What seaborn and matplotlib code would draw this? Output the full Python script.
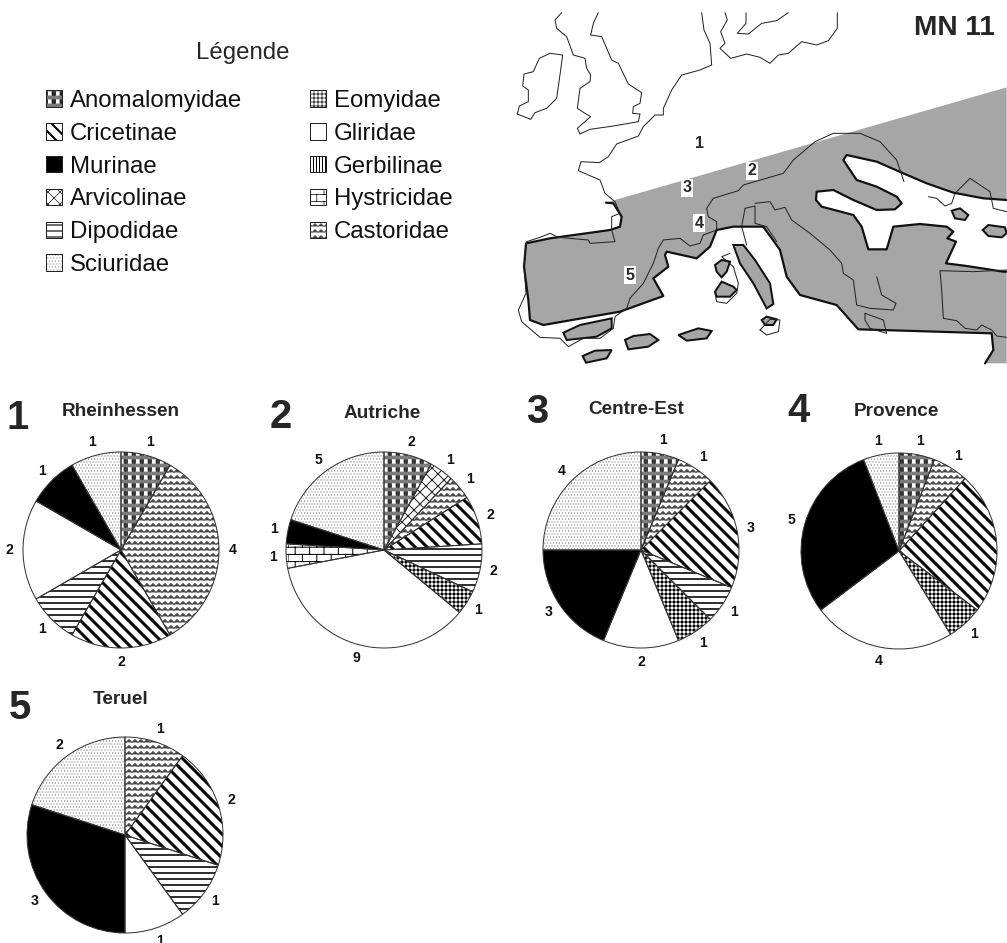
import warnings
import numpy as np
import pandas as pd
import matplotlib
matplotlib.use("Agg")
import matplotlib.pyplot as plt
import matplotlib.hatch as mhatch
from matplotlib.legend_handler import HandlerBase
from matplotlib.patches import Patch, Polygon, Rectangle
from matplotlib.path import Path
import seaborn as sns

warnings.filterwarnings("ignore")

# Data
families = ["Anomalomyidae", "Arvicolinae", "Castoridae", "Cricetinae", "Dipodidae",
            "Eomyidae", "Gerbilinae", "Gliridae", "Hystricidae", "Murinae", "Sciuridae"]
rheinhessen = [1, 0, 4, 2, 1, 0, 0, 2, 0, 1, 1]
autriche = [2, 1, 1, 2, 2, 1, 0, 9, 1, 1, 5]
centre_est = [1, 0, 1, 3, 1, 1, 0, 2, 0, 3, 4]
provence = [1, 0, 1, 4, 0, 1, 0, 4, 0, 5, 1]
teruel = [0, 0, 1, 2, 1, 0, 0, 1, 0, 3, 2]
region_names = ["Rheinhessen", "Autriche", "Centre-Est", "Provence", "Teruel"]
legend_col1 = ["Anomalomyidae", "Cricetinae", "Murinae", "Arvicolinae", "Dipodidae", "Sciuridae"]
legend_col2 = ["Eomyidae", "Gliridae", "Gerbilinae", "Hystricidae", "Castoridae"]

counts = pd.DataFrame([rheinhessen, autriche, centre_est, provence, teruel],
                      index=region_names, columns=families)

# pie layout in image pixels
pie_centers = [(121, 550), (384, 550), (641, 550), (899, 551), (125, 835)]
pie_radius = 98
title_xy = [(121, 411), (382, 413), (636, 410), (896, 412), (121, 700)]
number_xy = [(18, 418), (281, 417), (537, 412), (798, 411), (20, 708)]

# Map outlines at 3x, converted by to_px()
land = [(345, 600), (1520, 262), (1520, 600), (1450, 595), (1360, 578), (1280, 550), (1210, 520),
        (1130, 485), (1040, 465), (1030, 480), (1070, 540), (1130, 560), (1190, 590), (1205, 610),
        (1185, 628), (1130, 630), (1060, 600), (1000, 570), (950, 575), (948, 600), (965, 620),
        (1060, 645), (1085, 680), (1105, 748), (1160, 748), (1180, 680), (1260, 672), (1340, 680),
        (1360, 695), (1342, 715), (1368, 725), (1338, 790), (1400, 798), (1510, 815), (1520, 815),
        (1520, 1090), (1455, 1090), (1480, 1050), (1475, 1000), (1075, 988), (1010, 915), (900, 885),
        (860, 830), (840, 750), (790, 680), (700, 680), (650, 690), (630, 740), (590, 775), (500, 755),
        (495, 765), (505, 800), (460, 835), (490, 888), (360, 935), (130, 975), (90, 960), (85, 900),
        (72, 800), (78, 730), (150, 715), (330, 690), (360, 680), (365, 650), (340, 610), (318, 608)]
islands = [
    [(700, 735), (730, 735), (765, 780), (810, 850), (820, 912), (800, 925), (760, 850), (720, 790)],
    [(645, 795), (665, 780), (690, 785), (680, 815), (665, 832), (650, 815)],
    [(645, 875), (665, 845), (700, 860), (710, 870), (690, 890), (650, 890)],
    [(785, 960), (800, 950), (830, 958), (820, 975), (795, 975)],
    [(190, 998), (240, 975), (335, 955), (335, 985), (290, 1010), (200, 1020)],
    [(375, 1020), (400, 1008), (450, 1002), (475, 1020), (445, 1040), (385, 1048)],
    [(535, 1005), (595, 985), (635, 993), (620, 1015), (560, 1022)],
    [(248, 1068), (285, 1052), (335, 1050), (320, 1075), (258, 1088)],
    [(1355, 632), (1380, 625), (1405, 645), (1395, 660), (1365, 655)],
    [(1448, 690), (1465, 675), (1515, 682), (1520, 700), (1505, 712), (1465, 708)],
]
coasts = [
    [(52, 342), (58, 318), (85, 305), (85, 270), (68, 258), (72, 222), (100, 215), (118, 175),
     (150, 160), (188, 165), (182, 210), (170, 295), (140, 325), (105, 338), (92, 358), (52, 342)],
    [(185, 38), (165, 60), (170, 85), (200, 110), (220, 165), (255, 175), (260, 205), (272, 225),
     (270, 245), (240, 265), (232, 325), (255, 340), (272, 350), (232, 385), (240, 402), (270, 388),
     (340, 378), (415, 365), (420, 342), (398, 340), (400, 320), (420, 310), (425, 278), (385, 252),
     (355, 190), (335, 180), (305, 110), (272, 105), (280, 70), (295, 38)],
    [(605, 38), (612, 90), (630, 130), (635, 195), (600, 210), (545, 225), (515, 270), (490, 325),
     (490, 345), (465, 345), (430, 380), (415, 408), (350, 432), (325, 470), (298, 488), (243, 485),
     (235, 512), (300, 540), (315, 580), (345, 605), (360, 640), (335, 650), (335, 690), (345, 725),
     (270, 730), (265, 720), (175, 712), (150, 700), (120, 712), (80, 725), (72, 800), (78, 880),
     (55, 930), (65, 965), (120, 1012), (180, 1015), (205, 1040), (250, 1015), (300, 1015), (340, 985),
     (345, 950), (380, 925), (390, 895), (430, 850), (460, 790), (475, 745), (490, 720), (540, 715),
     (570, 738), (600, 730), (610, 705), (650, 690), (650, 665), (625, 650), (620, 625), (640, 595),
     (715, 572), (730, 555), (850, 520), (880, 480), (945, 425), (1000, 400), (1080, 400), (1140, 425),
     (1190, 480), (1212, 545)],
    [(675, 38), (682, 60), (662, 95), (675, 130), (660, 145), (692, 175), (740, 162), (780, 172),
     (810, 190), (835, 165), (865, 160), (905, 125), (950, 135), (985, 122), (1012, 85), (1012, 38)],
    [(738, 38), (738, 70), (712, 100), (745, 102), (785, 70), (830, 62), (865, 38)],
    [(765, 610), (810, 605), (825, 630), (855, 622), (875, 660), (930, 700), (990, 750), (1025, 790),
     (1030, 820), (1060, 840), (1070, 915), (1110, 925), (1180, 930), (1188, 910), (1145, 885), (1130, 830)],
    [(740, 735), (725, 680), (735, 625), (765, 618), (765, 670), (800, 680), (830, 725)],
    [(690, 760), (665, 770), (700, 800), (715, 850), (710, 880), (680, 910), (650, 905), (645, 880)],
    [(780, 990), (810, 958), (840, 960), (835, 995), (800, 1005), (780, 990)],
    [(1095, 940), (1150, 960), (1160, 1000), (1110, 985), (1095, 960), (1095, 940)],
    [(1285, 590), (1310, 595), (1335, 618), (1355, 610), (1365, 580), (1410, 535), (1470, 575),
     (1480, 625), (1520, 635)],
    [(1520, 810), (1420, 815), (1320, 812), (1325, 870), (1330, 955), (1370, 962), (1395, 985),
     (1430, 990), (1445, 975), (1475, 990), (1490, 1008), (1520, 1012)],
]
map_numbers = ["1", "2", "3", "4", "5"]
map_number_xy = [(598, 432), (757, 512), (562, 563), (598, 670), (390, 825)]


def to_px(points):
    return np.array(points) / 3 + [500, 0]


# Extra hatch patterns for the fills matplotlib does not have: wave, brick, squares
def wave_tile():
    verts, codes = [], []
    for row in range(12):
        y = (row + 0.5) / 12
        for i in range(25):
            verts.append((i / 24, y + (0.02 if i % 2 else -0.02)))
            codes.append(Path.LINETO if i else Path.MOVETO)
    return verts, codes


def brick_tile():
    verts, codes = [], []
    for row in range(10):
        y = row / 10
        verts += [(0, y), (1, y)]
        codes += [Path.MOVETO, Path.LINETO]
        for col in range(5):
            x = (col + (0.5 if row % 2 else 0)) / 5
            verts += [(x, y), (x, y + 0.1)]
            codes += [Path.MOVETO, Path.LINETO]
    return verts, codes


def square_tile(dx):
    verts, codes = [], []
    n, s = 9, 0.05
    for row in range(n):
        for col in range(n):
            x, y = col / n + dx, row / n + 0.01
            verts += [(x, y), (x + s, y), (x + s, y + s), (x, y + s), (x, y)]
            codes += [Path.MOVETO, Path.LINETO, Path.LINETO, Path.LINETO, Path.CLOSEPOLY]
    return verts, codes


tiles = {"w": wave_tile(), "b": brick_tile(), "q": square_tile(0.0), "k": square_tile(1 / 18)}


class TileHatch(mhatch.HatchPatternBase):
    def __init__(self, hatch, density):
        self.parts = [tiles[c] for c in (hatch or "") if c in tiles]
        self.num_vertices = sum(len(p[0]) for p in self.parts)

    def set_vertices_and_codes(self, vertices, codes):
        i = 0
        for verts, cods in self.parts:
            vertices[i:i + len(verts)] = verts
            codes[i:i + len(verts)] = cods
            i += len(verts)


mhatch._hatch_types.append(TileHatch)

# family: face colour, hatch colour, hatch, hatch line width, hatch on top (black)
styles = {
    "Anomalomyidae": ("#7a7a7a", "white", "q", 0.5, "k"),
    "Arvicolinae": ("white", "#222222", "xx", 1.0, None),
    "Castoridae": ("white", "#444444", "w", 1.0, None),
    "Cricetinae": ("white", "black", "\\\\", 3.0, None),
    "Dipodidae": ("white", "black", "--", 1.6, None),
    "Eomyidae": ("white", "black", "+++", 1.0, None),
    "Gerbilinae": ("white", "black", "||||", 1.5, None),
    "Gliridae": ("white", "black", None, 1.0, None),
    "Hystricidae": ("white", "black", "b", 1.0, None),
    "Murinae": ("black", "black", None, 1.0, None),
    "Sciuridae": ("white", "#555555", "....", 0.4, None),
}


class FamilyHandler(HandlerBase):
    def create_artists(self, legend, orig, xd, yd, w, h, fontsize, trans):
        face, color, hatch, lw, top = styles[orig.get_label()]
        base = Rectangle((-xd, -yd), w, h, transform=trans, facecolor=face,
                         edgecolor=color, hatch=hatch, linewidth=0)
        base.set_hatch_linewidth(lw * 0.7)
        line = Rectangle((-xd, -yd), w, h, transform=trans, fill=False,
                         edgecolor="#222222", hatch=top, linewidth=1.0)
        line.set_hatch_linewidth(0.5)
        return [base, line]


sns.set_theme(style="white")
plt.rcParams["font.family"] = ["Liberation Sans", "DejaVu Sans"]

W, H = 1007, 943
fig = plt.figure(figsize=(W / 72, H / 72), dpi=72)

# Whole-figure axes in pixels for the map and the text
bg = fig.add_axes([0, 0, 1, 1])
bg.set_xlim(0, W)
bg.set_ylim(H, 0)
bg.axis("off")

bg.add_patch(Polygon(to_px(land), closed=True, facecolor="#a6a6a6", edgecolor="none"))
shore = to_px(land[2:35])
bg.plot(shore[:, 0], shore[:, 1], color="#111111", lw=2.2)
shore = to_px(land[36:])
bg.plot(shore[:, 0], shore[:, 1], color="#111111", lw=2.2)
for isl in islands:
    bg.add_patch(Polygon(to_px(isl), closed=True, facecolor="#a6a6a6", edgecolor="#111111", lw=2.0))
for coast in coasts:
    xy = to_px(coast)
    bg.plot(xy[:, 0], xy[:, 1], color="#222222", lw=1.0)

for label, (x, y) in zip(map_numbers, to_px(map_number_xy)):
    bbox = None if label == "1" else dict(facecolor="white", edgecolor="none", pad=1.5)
    bg.text(x, y, label, fontsize=16, fontweight="bold", ha="center", va="center", bbox=bbox)

bg.text(954, 28, "MN 11", fontsize=28, fontweight="bold", ha="center", va="center")
bg.text(243, 53, "Légende", fontsize=24, ha="center", va="center")

handles = [Patch(label=f) for f in legend_col1 + legend_col2]
bg.legend(handles=handles, ncol=2, loc="upper left", bbox_to_anchor=(46 / W, 1 - 90 / H),
          bbox_transform=fig.transFigure, frameon=False, fontsize=24, borderpad=0, borderaxespad=0,
          handlelength=0.67, handleheight=0.67, handletextpad=0.33, columnspacing=2.82,
          labelspacing=0.45, labelcolor="#111111", handler_map={Patch: FamilyHandler()})

# One pie per region
for i, region in enumerate(region_names):
    row = counts.loc[region]
    row = row[row > 0]
    cx, cy = pie_centers[i]
    r = pie_radius * 1.03
    ax = fig.add_axes([(cx - r) / W, 1 - (cy + r) / H, 2 * r / W, 2 * r / H])
    fam_styles = [styles[f] for f in row.index]

    wedges, texts = ax.pie(row.values, labels=[str(v) for v in row.values], startangle=90,
                           counterclock=False, labeldistance=1.14,
                           colors=[s[0] for s in fam_styles], hatch=[s[2] for s in fam_styles],
                           textprops=dict(fontsize=14, fontweight="bold", color="#111111"))
    for w, s in zip(wedges, fam_styles):
        w.set_edgecolor(s[1])
        w.set_linewidth(0)
        w.set_hatch_linewidth(s[3])
    for t in texts:
        t.set_ha("center")
        t.set_va("center")

    # thin outline, and the black squares of Anomalomyidae
    outline, _ = ax.pie(row.values, startangle=90, counterclock=False,
                        hatch=[s[4] for s in fam_styles],
                        wedgeprops=dict(fill=False, edgecolor="#333333", linewidth=1.0))
    for w in outline:
        w.set_hatch_linewidth(0.5)
    ax.set_xlim(-1.03, 1.03)
    ax.set_ylim(-1.03, 1.03)

    bg.text(*title_xy[i], region, fontsize=19, fontweight="bold", ha="center", va="center")
    bg.text(*number_xy[i], str(i + 1), fontsize=40, fontweight="bold", ha="center", va="center")

fig.savefig("out.png", dpi=72)
